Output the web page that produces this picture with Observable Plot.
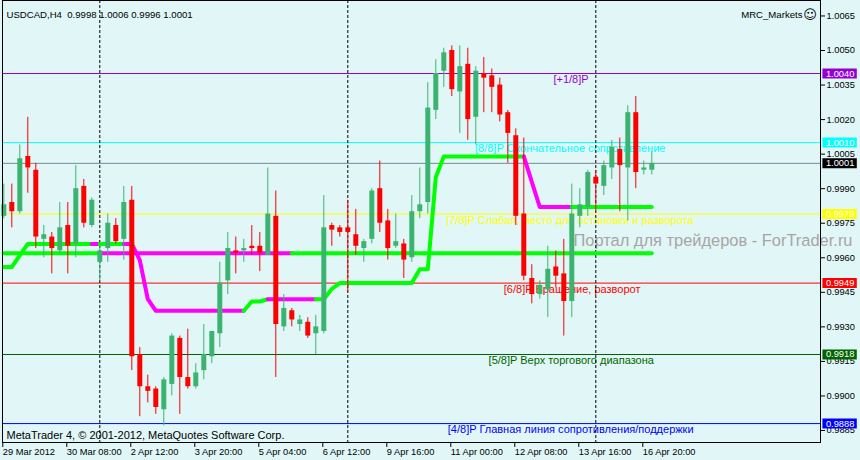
<!DOCTYPE html>
<html><head><meta charset="utf-8">
<script src="https://cdn.jsdelivr.net/npm/d3@7"></script>
<script src="https://cdn.jsdelivr.net/npm/@observablehq/plot@0.6"></script>
<style>
html,body{margin:0;padding:0;background:#e1f7f7;}
#chart{width:860px;height:460px;}
</style></head><body><div id="chart"></div>
<script>
const symbol = "USDCAD,H4";
const xTickIdx = [0,8,16,24,32,40,48,56,64,72,80];
const xLabels = ["29 Mar 2012","30 Mar 08:00","2 Apr 12:00","3 Apr 20:00","5 Apr 04:00","6 Apr 12:00","9 Apr 16:00","11 Apr 00:00","12 Apr 08:00","13 Apr 16:00","16 Apr 20:00"];
const yTicks = [1.0065,1.0050,1.0035,1.0020,1.0005,0.9990,0.9975,0.9960,0.9945,0.9930,0.9915,0.9900,0.9885];
const separators = [12,43,74];

const open  = [0.9978,0.9984,0.9980,1.0004,0.9998,0.9968,0.9969,0.9963,0.9974,0.9966,0.9991,0.9974,0.9958,0.9964,0.9974,0.9968,0.9985,0.9918,0.9904,0.9903,0.9894,0.9905,0.9925,0.9908,0.9904,0.9911,0.9917,0.9927,0.9950,0.9963,0.9963,0.9965,0.9965,0.9961,0.9978,0.9930,0.9937,0.9931,0.9932,0.9927,0.9928,0.9974,0.9973,0.9973,0.9970,0.9964,0.9968,0.9990,0.9976,0.9965,0.9966,0.9960,0.9980,0.9984,1.0024,1.0041,1.0050,1.0032,1.0044,1.0021,1.0040,1.0039,1.0035,1.0023,1.0013,0.9979,0.9951,0.9944,0.9946,0.9956,0.9953,0.9941,0.9978,0.9982,0.9995,0.9991,0.9999,1.0007,0.9999,1.0023,0.9998,0.9998];
const high  = [0.9992,0.9992,1.0009,1.0021,1.0001,0.9974,0.9971,0.9984,0.9984,1.0000,0.9994,0.9986,0.9965,0.9979,0.9977,0.9991,0.9991,0.9921,0.9909,0.9904,0.9908,0.9927,0.9926,0.9929,0.9914,0.9931,0.9928,0.9958,0.9971,0.9969,0.9968,0.9974,0.9971,0.9999,0.9989,0.9944,0.9938,0.9935,0.9934,0.9935,0.9987,0.9975,0.9974,0.9985,0.9981,0.9968,0.9990,1.0002,0.9981,0.9979,0.9968,0.9987,0.9999,1.0036,1.0046,1.0051,1.0052,1.0052,1.0051,1.0043,1.0047,1.0042,1.0038,1.0024,1.0016,1.0012,0.9957,0.9950,0.9965,0.9963,0.9968,0.9992,0.9990,0.9998,0.9998,1.0002,1.0011,1.0012,1.0026,1.0030,1.0002,1.0006];
const low   = [0.9977,0.9973,0.9979,0.9988,0.9964,0.9960,0.9953,0.9962,0.9953,0.9960,0.9973,0.9973,0.9950,0.9958,0.9966,0.9959,0.9911,0.9891,0.9897,0.9892,0.9887,0.9900,0.9892,0.9903,0.9903,0.9907,0.9914,0.9921,0.9944,0.9953,0.9958,0.9961,0.9954,0.9961,0.9908,0.9928,0.9930,0.9928,0.9925,0.9918,0.9927,0.9965,0.9969,0.9945,0.9961,0.9958,0.9966,0.9971,0.9959,0.9964,0.9951,0.9958,0.9977,0.9979,1.0020,1.0034,1.0030,1.0014,1.0011,1.0009,1.0023,1.0023,1.0019,1.0001,0.9974,0.9950,0.9940,0.9942,0.9934,0.9947,0.9926,0.9934,0.9973,0.9978,0.9980,0.9987,0.9994,0.9980,0.9976,0.9990,0.9996,0.9996];
const close = [0.9983,0.9980,1.0003,0.9999,0.9969,0.9970,0.9964,0.9973,0.9965,0.9990,0.9975,0.9985,0.9963,0.9975,0.9967,0.9984,0.9917,0.9904,0.9902,0.9895,0.9907,0.9926,0.9908,0.9904,0.9910,0.9918,0.9928,0.9949,0.9964,0.9962,0.9964,0.9964,0.9962,0.9979,0.9931,0.9938,0.9933,0.9933,0.9926,0.9930,0.9973,0.9972,0.9971,0.9971,0.9965,0.9967,0.9989,0.9975,0.9964,0.9967,0.9959,0.9980,0.9983,1.0025,1.0040,1.0049,1.0033,1.0043,1.0020,1.0041,1.0038,1.0034,1.0022,1.0014,0.9978,0.9952,0.9944,0.9948,0.9955,0.9952,0.9941,0.9979,0.9983,0.9997,0.9992,1.0000,1.0008,1.0000,1.0023,0.9997,0.9999,1.0001];

const trendA = [0.9956,0.9956,0.9961,0.9966,0.9966,0.9966,0.9966,0.9966,0.9966,0.9966,0.9966,0.9966,0.9966,0.9966,0.9966,0.9966,0.9966,0.9959,0.9942,0.9937,0.9937,0.9937,0.9937,0.9937,0.9937,0.9937,0.9937,0.9937,0.9937,0.9937,0.9937,0.9941,0.9941,0.9942,0.9942,0.9942,0.9942,0.9942,0.9942,0.9942,0.9942,0.99465,0.9949,0.9949,0.9949,0.9949,0.9949,0.9949,0.9949,0.9949,0.9949,0.9949,0.9955,0.9955,0.9995,1.0004,1.0004,1.0004,1.0004,1.0004,1.0004,1.0004,1.0004,1.0004,1.0004,1.0004,0.9993,0.9982,0.9982,0.9982,0.9982,0.9982,0.9982,0.9982,0.9982,0.9982,0.9982,0.9982,0.9982,0.9982,0.9982,0.9982];
const trendAColor = ["g","g","g","g","g","g","g","g","g","g","g","m","g","g","g","m","m","m","m","m","m","m","m","m","m","m","m","m","m","m","g","g","g","m","m","m","m","m","m","g","g","g","g","g","g","g","g","g","g","g","g","g","g","g","g","g","g","g","g","g","g","g","g","g","g","m","m","m","m","m","m","g","g","g","g","g","g","g","g","g","g"];
const trendB = [0.9962,0.9962,0.9962,0.9962,0.9962,0.9962,0.9962,0.9962,0.9962,0.9962,0.9962,0.9962,0.9962,0.9962,0.9962,0.9962,0.9962,0.9962,0.9962,0.9962,0.9962,0.9962,0.9962,0.9962,0.9962,0.9962,0.9962,0.9962,0.9962,0.9962,0.9962,0.9962,0.9962,0.9962,0.9962,0.9962,0.9962,0.9962,0.9962,0.9962,0.9962,0.9962,0.9962,0.9962,0.9962,0.9962,0.9962,0.9962,0.9962,0.9962,0.9962,0.9962,0.9962,0.9962,0.9962,0.9962,0.9962,0.9962,0.9962,0.9962,0.9962,0.9962,0.9962,0.9962,0.9962,0.9962,0.9962,0.9962,0.9962,0.9962,0.9962,0.9962,0.9962,0.9962,0.9962,0.9962,0.9962,0.9962,0.9962,0.9962,0.9962,0.9962];
const trendBColor = ["g","g","g","g","g","g","g","g","g","g","g","g","m","m","m","m","m","m","m","m","m","m","m","m","m","m","m","m","m","m","m","m","m","m","m","m","g","g","g","g","g","g","g","g","g","g","g","g","g","g","g","g","g","g","g","g","g","g","g","g","g","g","g","g","g","g","g","g","g","g","g","g","g","g","g","g","g","g","g","g","g"];

const levelPrice = [1.0040,1.0010,0.9979,0.9949,0.9918,0.9888];
const levelColor = ["#9400d3","#00ffff","#ffff00","#ff0000","#006400","#0000ff"];
const levelText  = ["[+1/8]P","[8/8]P Окончательное сопротивление","[7/8]P Слабая, место для остановки и разворота","[6/8]P Вращение, разворот","[5/8]P Верх торгового диапазона","[4/8]P Главная линия сопротивления/поддержки"];
const levelTextIdx = [68.7,58.9,55.3,62.5,60.6,55.5];
const lastPrice = 1.0001;
const lastColor = "#000000";
const priceLineColor = "#778899";

const watermark = "Портал для трейдеров - ForTrader.ru";
const copyright = "MetaTrader 4, © 2001-2012, MetaQuotes Software Corp.";
const broker = "MRC_Markets";

const fmt = d3.format(".4f");
const small = "'Liberation Sans',Arial,sans-serif";
const regular = "'Liberation Sans',Arial,sans-serif";
const smallSize = 9.3;

const candles = open.map((o,i)=>({i, o, h: high[i], l: low[i], c: close[i]}));
const bull = "#3cb371", bear = "#ff0000";
const cColor = d => d.c >= d.o ? bull : bear;

const trendColors = {g:"#00ff00", m:"#ff00ff"};
function runs(vals, cols){
  const rows=[]; let run=0;
  for(let k=0;k<cols.length;k++){
    if(k===0 || cols[k]!==cols[k-1]){ run++; rows.push({i:k, v:vals[k], run, col:trendColors[cols[k]]}); }
    rows.push({i:k+1, v:vals[k+1], run, col:trendColors[cols[k]]});
  }
  return rows;
}
const rowsA = runs(trendA, trendAColor);
const rowsB = runs(trendB, trendBColor);

const levels = levelPrice.map((p,j)=>({p, color: levelColor[j], text: levelText[j], xi: levelTextIdx[j]}));
const boxes = [...levels.map(d=>({p:d.p, color:d.color})), {p:lastPrice, color:lastColor}];

// scale domains: 8 px per bar, 23030 px per 1.0 price
const xDomain = [-0.1625, 102.0875];
const yDomain = [0.987979, 1.007171];
const boxX1 = xDomain[1] + 0.3, boxX2 = xDomain[1] + 4.6;

const last = candles[candles.length-1];
const header = `${symbol}\u00a0\u00a0${[last.o,last.h,last.l,last.c].map(fmt).join(" ")}`;

const chart = Plot.plot({
  width: 860, height: 460,
  marginLeft: 2, marginRight: 40, marginTop: 0, marginBottom: 18,
  x: {type:"linear", domain: xDomain},
  y: {type:"linear", domain: yDomain},
  color: {type:"identity"},
  style: {background:"#e1f7f7", color:"#000", fontFamily: small, fontSize: smallSize+"px", overflow:"visible"},
  marks: [
    Plot.ruleY(levels, {y:"p", stroke:"color", strokeWidth:1}),
    Plot.ruleY([lastPrice], {stroke: priceLineColor, strokeWidth:1}),
    Plot.text(levels, {x:"xi", y:"p", text:"text", fill:"color", textAnchor:"start", lineAnchor:"top", dy:2, fontFamily: regular, fontSize: 11}),
    Plot.text([watermark], {frameAnchor:"top-left", dx:571, dy:240, text:d=>d, fill:"#a9a4a4", textAnchor:"start", lineAnchor:"middle", fontFamily: regular, fontSize:16.8}),
    Plot.ruleX(separators, {x: d=>d, stroke:"#000", strokeDasharray:"3,2"}),
    Plot.line(rowsB, {x:"i", y:"v", z:"run", stroke:"col", strokeWidth:4, strokeLinecap:"round", strokeLinejoin:"round"}),
    Plot.line(rowsA, {x:"i", y:"v", z:"run", stroke:"col", strokeWidth:4, strokeLinecap:"round", strokeLinejoin:"round"}),
    Plot.ruleX(candles, {x:"i", y1:"l", y2:"h", stroke: cColor, strokeWidth:1}),
    Plot.ruleX(candles, {x:"i", y1:"o", y2:"c", stroke: cColor, strokeWidth:5}),
    Plot.axisY(yTicks, {anchor:"right", tickSize:4, tickPadding:2, tickFormat: fmt, fontSize: smallSize, fontFamily: small}),
    Plot.axisX(xTickIdx, {anchor:"bottom", tickSize:5, tickPadding:1, tickFormat: d => xLabels[xTickIdx.indexOf(d)], textAnchor:"start", dx:-1, fontSize: smallSize, fontFamily: small}),
    Plot.ruleY(boxes, {y:"p", x1: boxX1, x2: boxX2, stroke:"color", strokeWidth:10}),
    Plot.text(boxes, {y:"p", x: boxX1, dx:3, text: d=>fmt(d.p), fill:"#fff", textAnchor:"start", lineAnchor:"middle", fontSize: smallSize, fontFamily: small}),
    Plot.text([header], {frameAnchor:"top-left", dx:4, dy:14, text:d=>d, textAnchor:"start", lineAnchor:"middle", fill:"#000", fontSize: 9.6}),
    Plot.text([broker], {frameAnchor:"top-right", dx:-18, dy:14, text:d=>d, textAnchor:"end", lineAnchor:"middle", fill:"#000", fontSize: 9.6}),
    Plot.text(["\u263A"], {frameAnchor:"top-right", dx:-10.5, dy:14, text:d=>d, textAnchor:"middle", lineAnchor:"middle", fill:"#000", fontFamily:"'DejaVu Sans'", fontSize:13}),
    Plot.text([copyright], {frameAnchor:"bottom-left", dx:4, dy:-7, text:d=>d, textAnchor:"start", lineAnchor:"middle", fill:"#000", fontFamily: regular, fontSize:11}),
    Plot.frame({stroke:"#000"})
  ]
});
// fit the watermark to the width it has in the reference
d3.select(chart).selectAll("text").filter(function(){ return this.textContent === watermark; })
  .attr("textLength", 279).attr("lengthAdjust", "spacingAndGlyphs");
document.getElementById("chart").appendChild(chart);
</script></body></html>
